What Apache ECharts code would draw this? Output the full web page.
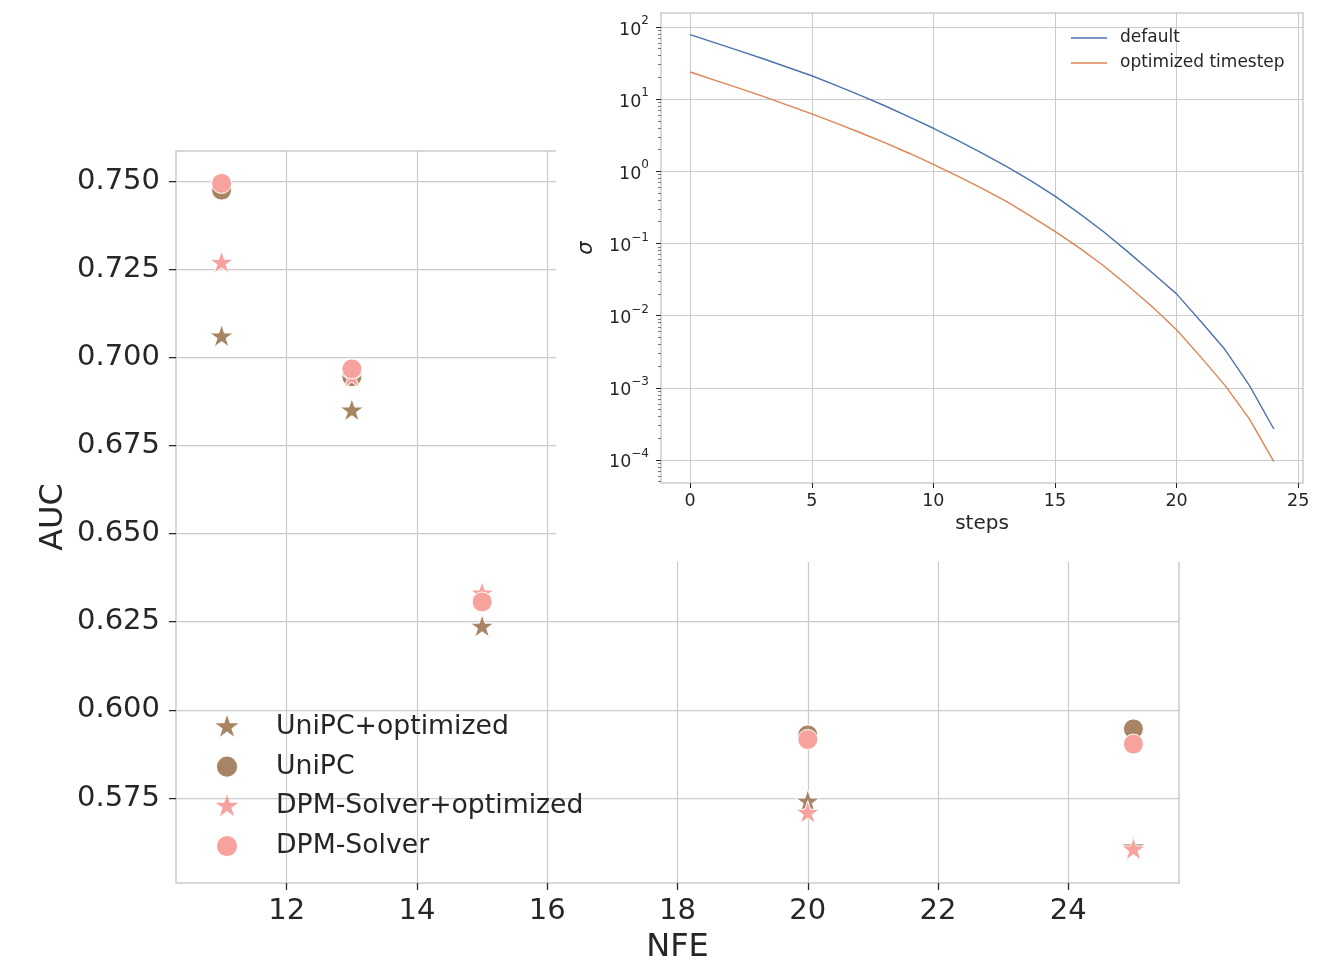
<!DOCTYPE html>
<html><head><meta charset="utf-8">
<script src="https://cdn.jsdelivr.net/npm/echarts@6/dist/echarts.min.js"></script>
<style>html,body{margin:0;padding:0;background:#fff}#c{width:1327px;height:960px}</style>
</head><body><div id="c"></div>
<script>
// ---- main chart data ----
const nfe = [11, 13, 15, 20, 25];
const unipcOptimized = [0.7058, 0.6848, 0.6235, 0.5739, 0.5609];
const unipc = [0.7474, 0.6945, 0.6310, 0.5929, 0.5946];
const dpmOptimized = [0.7267, 0.6943, 0.6329, 0.5707, 0.5603];
const dpm = [0.7493, 0.6967, 0.6306, 0.5916, 0.5903];
const nfeTicks = [12, 14, 16, 18, 20, 22, 24];
const aucTicks = [0.575, 0.600, 0.625, 0.650, 0.675, 0.700, 0.725, 0.750];

// ---- inset data ----
const steps = [0,1,2,3,4,5,6,7,8,9,10,11,12,13,14,15,16,17,18,19,20,21,22,23,24];
const sigmaDefault = [78.2, 60.8, 47.1, 36.3, 27.7, 21.1, 15.5, 11.25, 8.10, 5.70, 3.95, 2.69, 1.79, 1.17, 0.741, 0.452, 0.261, 0.145, 0.0765, 0.0392, 0.0200, 0.00829, 0.00336, 0.00107, 0.000268];
const sigmaOptimized = [23.8, 18.4, 14.2, 10.9, 8.26, 6.24, 4.65, 3.42, 2.49, 1.78, 1.246, 0.855, 0.578, 0.382, 0.239, 0.147, 0.0869, 0.0490, 0.0259, 0.01324, 0.00636, 0.00266, 0.00107, 0.000368, 0.0000944];
const stepTicks = [0, 5, 10, 15, 20, 25];
const sigmaExpTicks = [-4, -3, -2, -1, 0, 1, 2];

const FONT = 'DejaVu Sans';
const TXT = '#262626';
const GRIDC = '#cccccc';
const BROWN = '#a78463';
const PINK = '#f7a29d';
const BLUE = '#4c72b0';
const ORANGE = '#dd8452';
const STAR = 'path://M50 0L61.23 34.55L97.55 34.55L68.17 55.9L79.39 90.45L50 69.1L20.61 90.45L31.83 55.9L2.45 34.55L38.77 34.55ZM50 100L50 100';
const LEG_STAR = 'path://M0 0L0 0M100 100L100 100M50 7L59.66 36.71L90.9 36.71L65.63 55.08L75.28 84.79L50 66.43L24.72 84.79L34.37 55.08L9.1 36.71L40.34 36.71Z';
const LEG_CIRC = 'path://M0 0L0 0M100 100L100 100M86 50A36 36 0 1 1 14 50A36 36 0 1 1 86 50Z';

const yMin = -4.32, yMax = 2.194;
const minorVals = [];
for (let n = -5; n <= 2; n++) {
  for (let k = 2; k <= 9; k++) {
    const v = n + Math.log10(k);
    if (v > yMin && v < yMax) minorVals.push(v);
  }
}

function scat(name, arr, color, symbol, size) {
  return {
    name, type: 'scatter', xAxisIndex: 0, yAxisIndex: 0,
    symbol, symbolSize: size, symbolKeepAspect: true,
    itemStyle: {color, borderColor: '#ffffff', borderWidth: 1, opacity: 1},
    data: nfe.map((x, i) => [x, arr[i]]), z: 2
  };
}
function inLine(name, arr, color) {
  return {
    name, type: 'line', xAxisIndex: 1, yAxisIndex: 1, symbol: 'none', showSymbol: false,
    lineStyle: {color, width: 1.4}, itemStyle: {color},
    data: steps.map((s, i) => [s, Math.log10(arr[i])]), z: 100
  };
}

const chart = echarts.init(document.getElementById('c'), null, {renderer: 'canvas'});
chart.setOption({
  animation: false,
  backgroundColor: '#ffffff',
  textStyle: {fontFamily: FONT},
  grid: [
    {left: 176, right: 148, top: 151, bottom: 77, show: true, borderColor: GRIDC, borderWidth: 1.5, backgroundColor: 'transparent', containLabel: false, outerBoundsMode: 'none'},
    {left: 661, right: 24, top: 13, bottom: 477, show: true, borderColor: GRIDC, borderWidth: 1.5, backgroundColor: 'transparent', containLabel: false, outerBoundsMode: 'none', z: 100}
  ],
  graphic: {elements: [
    {type: 'rect', shape: {x: 556, y: 0, width: 771, height: 562}, style: {fill: '#ffffff'}, z: 50, silent: true}
  ]},
  legend: [
    {
      data: [
        {name: 'UniPC+optimized', icon: LEG_STAR},
        {name: 'UniPC', icon: LEG_CIRC},
        {name: 'DPM-Solver+optimized', icon: LEG_STAR},
        {name: 'DPM-Solver', icon: LEG_CIRC}
      ],
      orient: 'vertical', left: 213, top: 713, padding: 0,
      itemWidth: 28, itemHeight: 28, itemGap: 11.7,
      itemStyle: {borderWidth: 0},
      textStyle: {fontFamily: FONT, fontSize: 26.7, color: TXT, lineHeight: 28, padding: [0, 0, 0, 30]},
      selectedMode: false
    },
    {
      data: [{name: 'default', icon: 'rect'}, {name: 'optimized timestep', icon: 'rect'}],
      orient: 'vertical', left: 1071, top: 29.5, padding: 0,
      itemWidth: 36, itemHeight: 1.5, itemGap: 8,
      textStyle: {fontFamily: FONT, fontSize: 17, color: TXT, lineHeight: 17, padding: [0, 0, 0, 8]},
      selectedMode: false, z: 100
    }
  ],
  xAxis: [
    {
      type: 'value', gridIndex: 0, min: 10.3, max: 25.7, minInterval: 2, maxInterval: 2,
      name: 'NFE', nameLocation: 'middle', nameGap: 49, nameMoveOverlap: false,
      nameTextStyle: {fontFamily: FONT, fontSize: 32, color: TXT},
      axisLine: {show: false, onZero: false},
      axisTick: {show: true, customValues: nfeTicks, length: 7, lineStyle: {color: TXT, width: 1.25}},
      axisLabel: {customValues: nfeTicks, margin: 14, fontFamily: FONT, fontSize: 29, color: TXT, formatter: v => String(v)},
      splitLine: {show: true, lineStyle: {color: GRIDC, width: 1.25}}
    },
    {
      type: 'value', gridIndex: 1, min: -1.2, max: 25.2, minInterval: 5, maxInterval: 5,
      name: 'steps', nameLocation: 'middle', nameGap: 31, nameMoveOverlap: false,
      nameTextStyle: {fontFamily: FONT, fontSize: 20, color: TXT},
      axisLine: {show: false, onZero: false},
      axisTick: {show: true, customValues: stepTicks, length: 5, lineStyle: {color: TXT, width: 1}},
      axisLabel: {customValues: stepTicks, margin: 9, fontFamily: FONT, fontSize: 17.5, color: TXT, formatter: v => String(v)},
      splitLine: {show: true, lineStyle: {color: GRIDC, width: 1}},
      z: 100
    }
  ],
  yAxis: [
    {
      type: 'value', gridIndex: 0, min: 0.5509, max: 0.7585, minInterval: 0.025, maxInterval: 0.025,
      name: 'AUC', nameLocation: 'middle', nameGap: 106, nameRotate: 90, nameMoveOverlap: false,
      nameTextStyle: {fontFamily: FONT, fontSize: 32, color: TXT},
      axisLine: {show: false, onZero: false},
      axisTick: {show: true, customValues: aucTicks, length: 7, lineStyle: {color: TXT, width: 1.25}},
      axisLabel: {customValues: aucTicks, margin: 16, fontFamily: FONT, fontSize: 29, color: TXT, formatter: v => v.toFixed(3)},
      splitLine: {show: true, lineStyle: {color: GRIDC, width: 1.25}}
    },
    {
      type: 'value', gridIndex: 1, min: yMin, max: yMax, minInterval: 1, maxInterval: 1,
      name: 'σ', nameLocation: 'middle', nameGap: 64, nameRotate: 90, nameMoveOverlap: false,
      nameTextStyle: {fontFamily: FONT, fontSize: 21, fontStyle: 'italic', color: TXT},
      axisLine: {show: false, onZero: false},
      axisTick: {show: true, customValues: sigmaExpTicks, length: 5, lineStyle: {color: TXT, width: 1}},
      axisLabel: {
        customValues: sigmaExpTicks, margin: 12, color: TXT,
        formatter: v => '{b|10}{s|' + (v < 0 ? '\u2212' + (-v) : String(v)) + '}',
        rich: {
          b: {fontFamily: FONT, fontSize: 17.5, color: TXT, lineHeight: 24, verticalAlign: 'bottom'},
          s: {fontFamily: FONT, fontSize: 12, color: TXT, lineHeight: 14, verticalAlign: 'top'}
        }
      },
      splitLine: {show: true, lineStyle: {color: GRIDC, width: 1}},
      z: 100
    },
    {
      type: 'value', gridIndex: 1, min: yMin, max: yMax, position: 'left',
      axisLine: {show: false, onZero: false},
      axisTick: {show: true, customValues: minorVals, length: 3, lineStyle: {color: '#555555', width: 0.8}},
      axisLabel: {show: false},
      splitLine: {show: false},
      z: 100
    }
  ],
  series: [
    scat('UniPC+optimized', unipcOptimized, BROWN, STAR, 25),
    scat('UniPC', unipc, BROWN, 'circle', 20),
    scat('DPM-Solver+optimized', dpmOptimized, PINK, STAR, 25),
    scat('DPM-Solver', dpm, PINK, 'circle', 20),
    inLine('default', sigmaDefault, BLUE),
    inLine('optimized timestep', sigmaOptimized, ORANGE)
  ]
});
</script>
</body></html>
